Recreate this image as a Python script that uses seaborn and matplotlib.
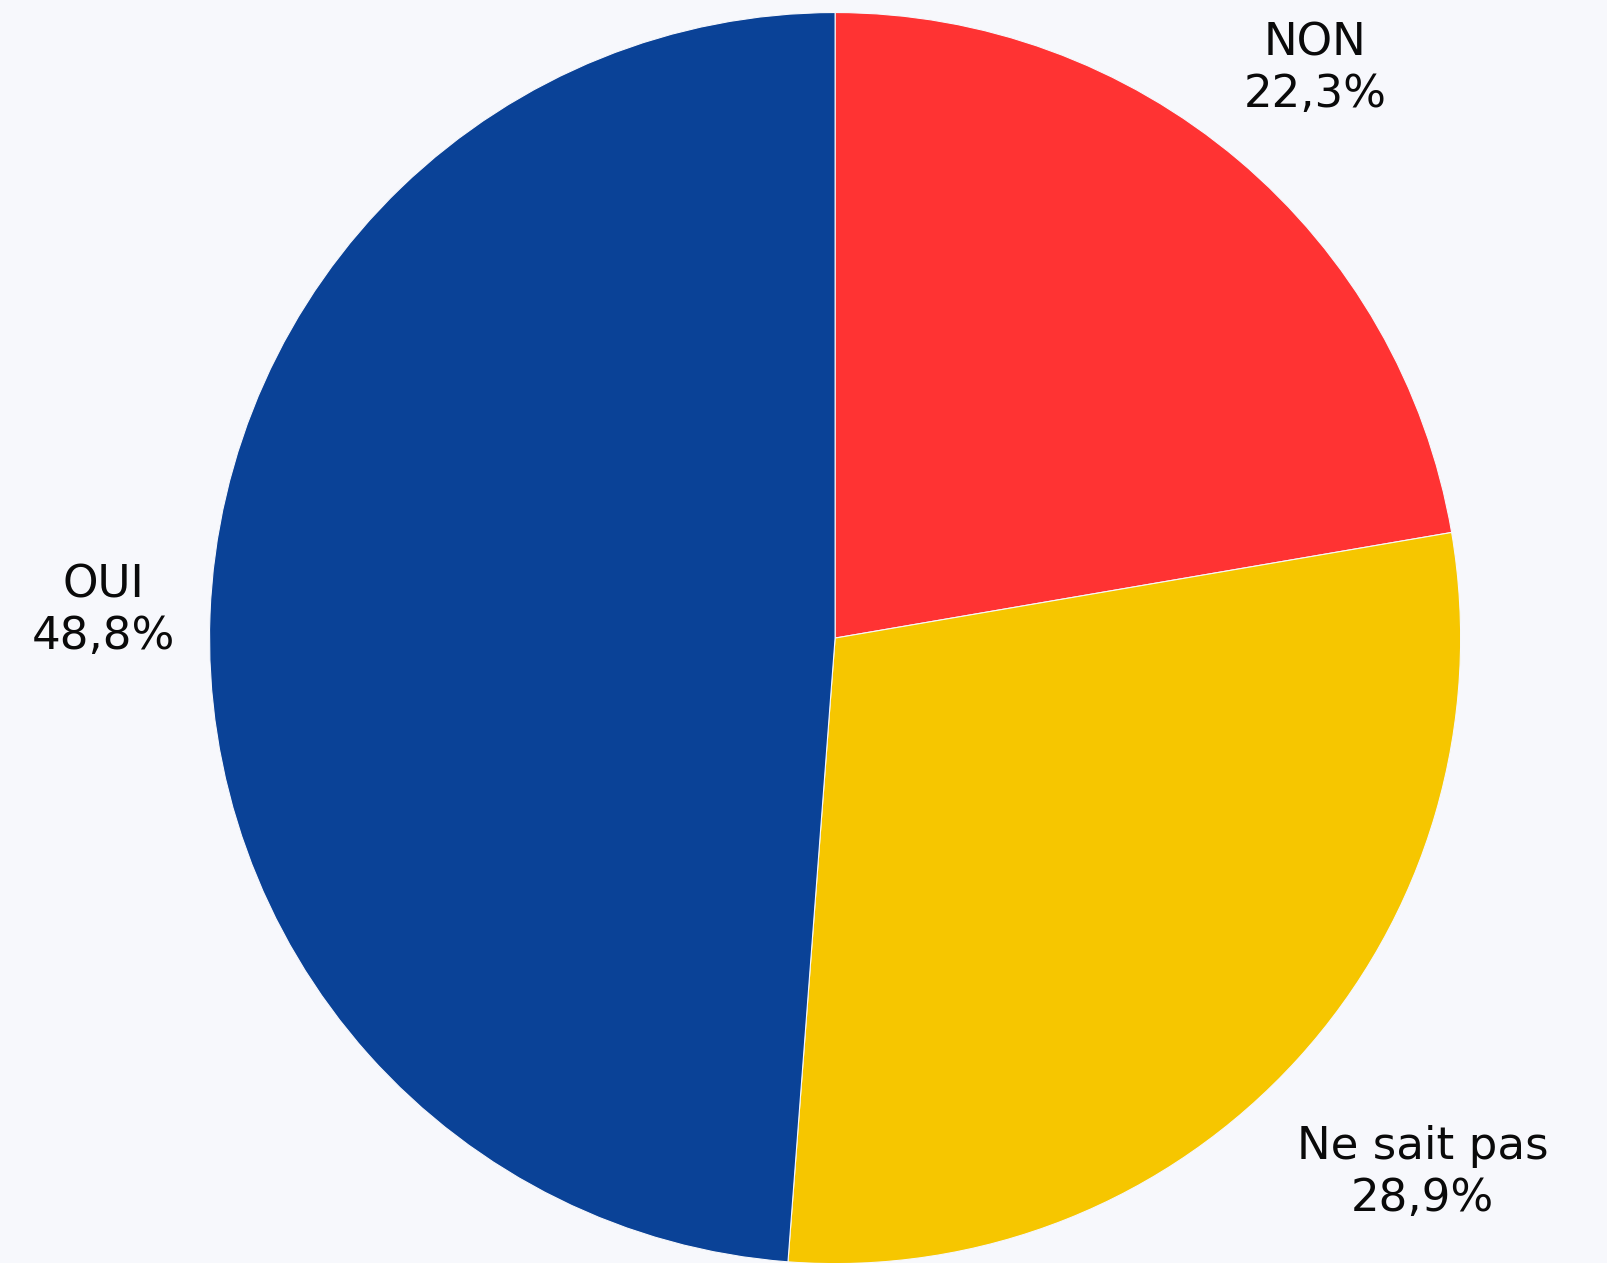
"""
Sondage — camembert OUI / NON / Ne sait pas
"""
import matplotlib
matplotlib.use("Agg")
import matplotlib.pyplot as plt
import numpy as np
import seaborn as sns

sns.set_theme(style="white")
plt.rcParams["font.family"] = ["DejaVu Sans"]

# données (ordre horaire depuis midi)
LABELS = ["NON", "Ne sait pas", "OUI"]
VALUES = [22.3, 28.9, 48.8]
COLORS = ["#FF3333", "#F6C600", "#0A4297"]

BG = "#F7F8FC"
LABEL_DIST = [1.19, 1.27, 1.17]   # distance du texte par part


def main():
    fig = plt.figure(figsize=(16.07, 12.63), dpi=100, facecolor=BG)
    ax = fig.add_axes([0, 0, 1, 1])
    ax.set_facecolor(BG)

    pal = sns.color_palette(COLORS)
    wedges, _ = ax.pie(VALUES, colors=pal, startangle=90, counterclock=False,
                       wedgeprops=dict(edgecolor=BG, linewidth=0.8))

    # étiquettes centrées sur l'angle médian de chaque part
    for w, lab, v, d in zip(wedges, LABELS, VALUES, LABEL_DIST):
        mid = np.deg2rad((w.theta1 + w.theta2) / 2)
        txt = f"{lab}\n{v:.1f}%".replace(".", ",")
        ax.text(d * np.cos(mid), d * np.sin(mid), txt, ha="center", va="center",
                fontsize=32.5, color="#0A0A0A", linespacing=1.25)

    # rayon 1 = 625 px, centre à (835, 638)
    ax.set_xlim(-1.335, 1.234)
    ax.set_ylim(-0.999, 1.020)
    ax.set_aspect("equal")
    ax.axis("off")

    fig.savefig("out.png", dpi=100, facecolor=BG)
    plt.close(fig)


if __name__ == "__main__":
    main()
